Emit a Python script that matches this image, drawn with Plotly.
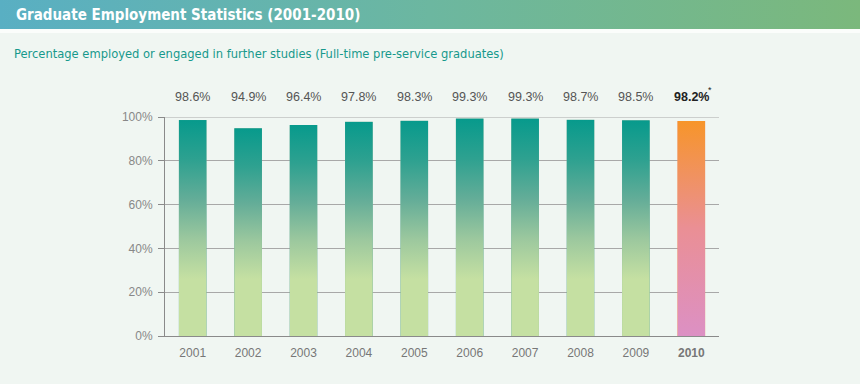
import base64
import plotly.graph_objects as go

# ---- data ----
years = ["2001", "2002", "2003", "2004", "2005", "2006", "2007", "2008", "2009", "2010"]
rates = [98.6, 94.9, 96.4, 97.8, 98.3, 99.3, 99.3, 98.7, 98.5, 98.2]
highlight_year = "2010"
y_ticks = [0, 20, 40, 60, 80, 100]
y_tick_labels = ["0%", "20%", "40%", "60%", "80%", "100%"]

title_text = "Graduate Employment Statistics (2001-2010)"
subtitle_text = "Percentage employed or engaged in further studies (Full-time pre-service graduates)"

# ---- geometry / style ----
W, H = 860, 384
ML, MR, MT, MB = 165, 141, 117, 48
PW, PH = W - ML - MR, H - MT - MB
BG = "#f0f6f2"


def px_to_paper_x(px):
    return (px - ML) / PW


def px_to_paper_y(py):
    return (H - MB - py) / PH


def svg_uri(stops, horizontal=False):
    if horizontal:
        grad = '<linearGradient id="g" x1="0" y1="0" x2="1" y2="0">'
    else:
        grad = '<linearGradient id="g" x1="0" y1="0" x2="0" y2="1">'
    grad += "".join(f'<stop offset="{o:.4f}" stop-color="{c}"/>' for o, c in stops)
    grad += "</linearGradient>"
    svg = ('<svg xmlns="http://www.w3.org/2000/svg" width="100" height="100" '
           'viewBox="0 0 100 100" preserveAspectRatio="none"><defs>' + grad +
           '</defs><rect x="0" y="0" width="100" height="100" fill="url(#g)"/></svg>')
    return "data:image/svg+xml;base64," + base64.b64encode(svg.encode()).decode()


def teal_stops(v, green_level=26.0):
    span = (v - green_level) / v
    return [(0.0, "#079a8c"), (span * 0.25, "#2ea190"), (span * 0.5, "#64ad98"),
            (span * 0.75, "#9cc89e"), (span, "#c5e0a2"), (1.0, "#c5e0a2")]


hl_stops = [(0.0, "#f7952a"), (0.5, "#ea8f95"), (1.0, "#dc90c4")]

fig = go.Figure()
fig.add_trace(go.Bar(
    x=years, y=rates,
    marker=dict(color=["#f09060" if y == highlight_year else "#6aae98" for y in years],
                line=dict(width=0)),
    hovertemplate="%{x}: %{y:.1f}%<extra></extra>",
))

images = []
for i, (yr, v) in enumerate(zip(years, rates)):
    stops = hl_stops if yr == highlight_year else teal_stops(v)
    images.append(dict(
        source=svg_uri(stops), xref="x", yref="y", x=i, y=v,
        xanchor="center", yanchor="top", sizex=0.5, sizey=v,
        sizing="stretch", layer="above"))

# header band gradient
images.append(dict(
    source=svg_uri([(0, "#59afc3"), (0.5, "#6cb7a0"), (1, "#7bb87c")], horizontal=True),
    xref="paper", yref="paper", x=px_to_paper_x(0), y=px_to_paper_y(0),
    xanchor="left", yanchor="top", sizex=W / PW, sizey=29 / PH,
    sizing="stretch", layer="below"))

label_y = px_to_paper_y(97)
annotations = []
for i, (yr, v) in enumerate(zip(years, rates)):
    if yr == highlight_year:
        txt = f"<b>{v:.1f}%</b>"
        col = "#222222"
    else:
        txt = f"{v:.1f}%"
        col = "#555555"
    annotations.append(dict(x=i, y=label_y, xref="x", yref="paper", text=txt, showarrow=False,
                            font=dict(size=12.5, color=col, family="Liberation Sans, Arial, sans-serif"),
                            xanchor="center", yanchor="middle"))
    if yr == highlight_year:
        annotations.append(dict(x=i, y=px_to_paper_y(90), xref="x", yref="paper", text="*",
                                showarrow=False, xshift=19,
                                font=dict(size=9, color="#222222", family="Liberation Sans, Arial"),
                                xanchor="center", yanchor="middle"))

annotations.append(dict(x=px_to_paper_x(14), y=px_to_paper_y(15), xref="paper", yref="paper",
                        text="<b>" + title_text + "</b>", showarrow=False,
                        xanchor="left", yanchor="middle",
                        font=dict(size=15, color="white", family="DejaVu Sans Condensed, sans-serif")))
annotations.append(dict(x=px_to_paper_x(12), y=px_to_paper_y(53), xref="paper", yref="paper",
                        text=subtitle_text, showarrow=False,
                        xanchor="left", yanchor="middle",
                        font=dict(size=12.8, color="#17998c", family="DejaVu Sans Condensed, sans-serif")))

shapes = [
    dict(type="rect", xref="paper", yref="paper",
         x0=px_to_paper_x(0), x1=px_to_paper_x(W), y0=px_to_paper_y(33), y1=px_to_paper_y(29),
         fillcolor="#fbfdfb", line=dict(width=0), layer="below"),
    dict(type="line", xref="paper", yref="y", x0=0, x1=1, y0=100, y1=100,
         line=dict(color="#a8a8a8", width=1), layer="below"),
]

tick_text = [f"<b>{y}</b>" if y == highlight_year else y for y in years]

fig.update_layout(
    width=W, height=H,
    margin=dict(l=ML, r=MR, t=MT, b=MB, pad=0),
    paper_bgcolor=BG, plot_bgcolor=BG,
    showlegend=False,
    bargap=0.5,
    images=images,
    annotations=annotations,
    shapes=shapes,
    xaxis=dict(
        type="category", tickmode="array", tickvals=years, ticktext=tick_text,
        range=[-0.5, len(years) - 0.5],
        showline=True, linecolor="#8a8a8a", linewidth=1, ticks="", showgrid=False,
        ticklabelstandoff=6,
        tickfont=dict(size=12, color="#777777", family="Liberation Sans, Arial, sans-serif"),
        fixedrange=True,
    ),
    yaxis=dict(
        range=[0, 100], tickmode="array", tickvals=y_ticks, ticktext=y_tick_labels,
        showline=True, linecolor="#8a8a8a", linewidth=1,
        ticks="outside", ticklen=6, tickcolor="#8a8a8a", tickwidth=1,
        showgrid=True, gridcolor="#a8a8a8", gridwidth=1, zeroline=False,
        ticklabelstandoff=3,
        tickfont=dict(size=12, color="#888888", family="Liberation Sans, Arial, sans-serif"),
        fixedrange=True,
    ),
)

fig.write_html("out.html", config={"displayModeBar": False},
               post_script="document.body.style.margin='0px';")
